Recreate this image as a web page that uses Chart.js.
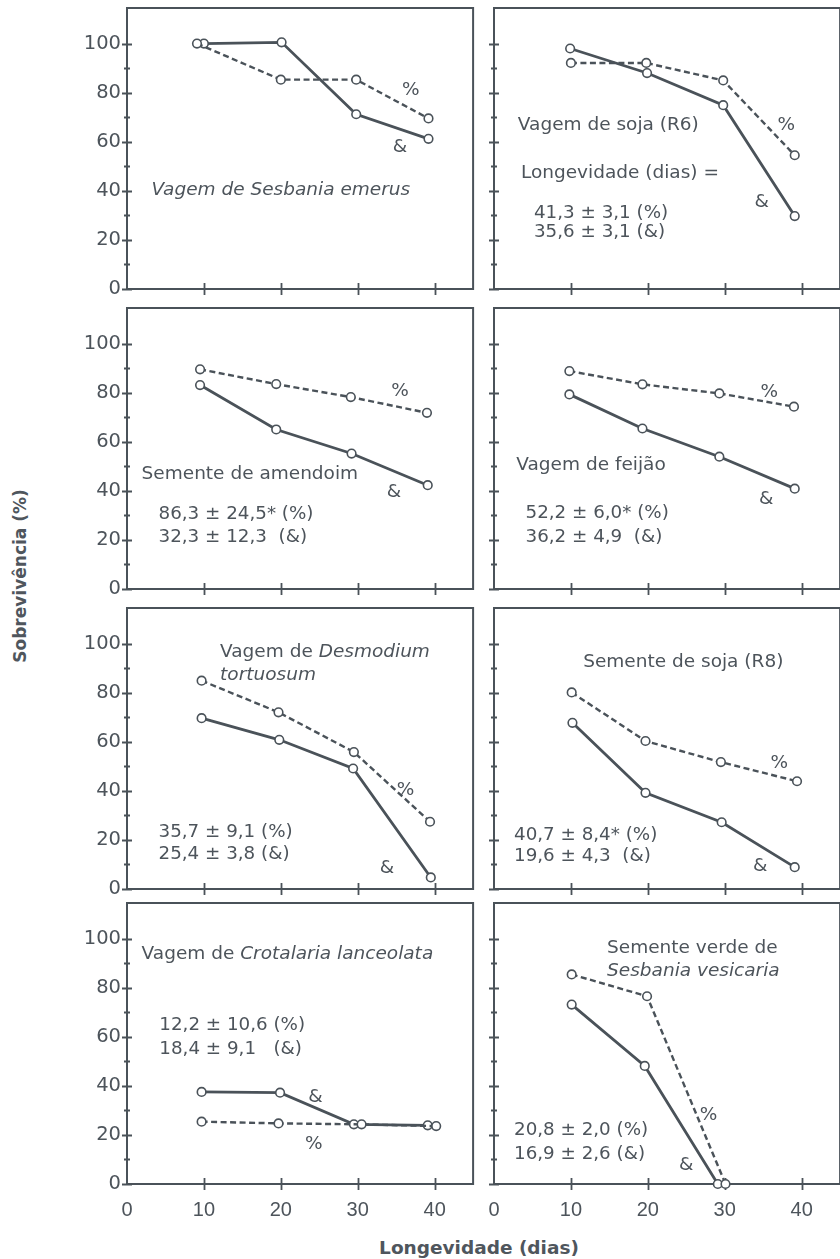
<!DOCTYPE html>
<html>
<head>
<meta charset="utf-8">
<title>Sobrevivência</title>
<script src="https://cdn.jsdelivr.net/npm/chart.js@4.4.1/dist/chart.umd.min.js"></script>
<style>
  html, body { margin: 0; padding: 0; background: #fff; overflow: hidden; }
  body { width: 840px; height: 1259px; position: relative; }
  canvas { position: absolute; }
  .title { position: absolute; font-family: 'DejaVu Sans', sans-serif; font-weight: bold; color: #4f565d; white-space: nowrap; }
  #ytitle { left: 20px; top: 576px; font-size: 17px; transform: translate(-50%, -50%) rotate(-90deg); }
  #xtitle { left: 479px; top: 1247px; font-size: 18.5px; transform: translate(-50%, -50%); }
</style>
</head>
<body>
<div class="title" id="ytitle">Sobrevivência (%)</div>
<div class="title" id="xtitle">Longevidade (dias)</div>
<script>
// painéis na ordem de leitura (esq->dir, cima->baixo)
const panelNames = ['Sesbania emerus', 'soja R6', 'amendoim', 'feijão', 'Desmodium', 'soja R8', 'Crotalaria', 'Sesbania vesicaria'];

// série & (linha contínua): dias e sobrevivência (%)
const solidDays = [
  [10, 20.1, 29.8, 39.2],
  [9.9, 19.9, 29.8, 39.1],
  [9.5, 19.4, 29.2, 39.1],
  [9.8, 19.3, 29.3, 39.1],
  [9.7, 19.8, 29.4, 39.5],
  [10.2, 19.7, 29.6, 39.1],
  [9.7, 19.9, 29.5, 39.1],
  [10.1, 19.6, 29.1]
];
const solidSurv = [
  [100, 100.5, 71.2, 61.2],
  [98, 88, 74.9, 29.7],
  [83.1, 65, 55.2, 42.3],
  [79.3, 65.4, 53.9, 40.9],
  [69.6, 60.8, 49.1, 4.7],
  [67.7, 39.2, 27.2, 8.9],
  [37.5, 37.2, 24.3, 23.9],
  [73.1, 48.1, 0]
];

// série % (tracejada)
const dashDays = [
  [9.1, 20, 29.8, 39.2],
  [10, 19.8, 29.8, 39.1],
  [9.5, 19.4, 29.1, 39],
  [9.8, 19.3, 29.3, 39],
  [9.7, 19.7, 29.5, 39.4],
  [10.1, 19.7, 29.5, 39.4],
  [9.7, 19.7, 30.5, 40.2],
  [10.1, 19.9, 30.1]
];
const dashSurv = [
  [100, 85.3, 85.3, 69.5],
  [92.1, 92.1, 85, 54.5],
  [89.5, 83.5, 78.2, 71.8],
  [88.8, 83.4, 79.7, 74.3],
  [84.9, 72, 55.8, 27.4],
  [80.1, 60.3, 51.7, 43.9],
  [25.4, 24.7, 24.3, 23.6],
  [85.4, 76.5, 0]
];

const yTickValues = [0, 10, 20, 30, 40, 50, 60, 70, 80, 90, 100];
const yLabelValues = [0, 20, 40, 60, 80, 100];
const xTickValues = [0, 10, 20, 30, 40];

// longevidade média ± dp
const longevity = [
  null,
  ['41,3 ± 3,1 (%)', '35,6 ± 3,1 (&)'],
  ['86,3 ± 24,5* (%)', '32,3 ± 12,3  (&)'],
  ['52,2 ± 6,0* (%)', '36,2 ± 4,9  (&)'],
  ['35,7 ± 9,1 (%)', '25,4 ± 3,8 (&)'],
  ['40,7 ± 8,4* (%)', '19,6 ± 4,3  (&)'],
  ['12,2 ± 10,6 (%)', '18,4 ± 9,1   (&)'],
  ['20,8 ± 2,0 (%)', '16,9 ± 2,6 (&)']
];

const ink = '#4a5259';
const textInk = '#4d545b';
const FONT = "'DejaVu Sans', sans-serif";

// textos de cada painel, posicionados em unidades dos eixos
// t: lista de [texto, itálico]
const notes = [
  { titles: [{ x: 3.2, y: 40.3, t: [['Vagem de Sesbania emerus', true]] }],
    stats: null, pct: [36.9, 81], amp: [35.5, 57.9] },
  { titles: [{ x: 3.1, y: 66.7, t: [['Vagem de soja (R6)', false]] },
             { x: 3.5, y: 47, t: [['Longevidade (dias) =', false]] }],
    stats: [5.2, 30.8, 23], pct: [38, 66.7], amp: [34.8, 35.5] },
  { titles: [{ x: 1.9, y: 46.7, t: [['Semente de amendoim', false]] }],
    stats: [4.1, 30.3, 21.2], pct: [35.5, 80.7], amp: [34.7, 39.4] },
  { titles: [{ x: 2.9, y: 50.4, t: [['Vagem de feijão', false]] }],
    stats: [4.1, 31, 21.2], pct: [35.8, 80], amp: [35.4, 36.4] },
  { titles: [{ x: 12.1, y: 96.4, t: [['Vagem de ', false], ['Desmodium', true]] },
             { x: 12.1, y: 87.3, t: [['tortuosum', true]] }],
    stats: [4.1, 23.1, 14.3], pct: [36.2, 40.3], amp: [33.8, 8.5] },
  { titles: [{ x: 11.6, y: 92.3, t: [['Semente de soja (R8)', false]] }],
    stats: [2.6, 22, 13.5], pct: [37.1, 51.1], amp: [34.6, 9.2] },
  { titles: [{ x: 1.9, y: 93.5, t: [['Vagem de ', false], ['Crotalaria lanceolata', true]] }],
    stats: [4.2, 64.8, 55], pct: [24.3, 16.1], amp: [24.5, 35.2] },
  { titles: [{ x: 14.7, y: 96.2, t: [['Semente verde de', false]] },
             { x: 14.7, y: 86.6, t: [['Sesbania vesicaria', true]] }],
    stats: [2.6, 21.9, 12], pct: [27.9, 28], amp: [25, 7.5] }
];

const frame = {
  id: 'frame',
  beforeDatasetsDraw(chart, args, opts) {
    const { ctx, chartArea: a, scales: { x, y } } = chart;
    ctx.save();
    ctx.strokeStyle = ink;
    ctx.lineWidth = 2;
    ctx.strokeRect(a.left, a.top, a.right - a.left, a.bottom - a.top);
    ctx.lineWidth = 1.8;
    ctx.beginPath();
    y.ticks.forEach(t => {
      const py = Math.round(y.getPixelForValue(t.value)) + 0.5;
      const h = t.value % 20 === 0 ? 5 : 3;
      ctx.moveTo(a.left - h, py);
      ctx.lineTo(a.left + h, py);
    });
    x.ticks.forEach(t => {
      if (t.value === 0) return;
      const px = Math.round(x.getPixelForValue(t.value)) + 0.5;
      ctx.moveTo(px, a.bottom - 6);
      ctx.lineTo(px, a.bottom + 6);
    });
    ctx.stroke();

    // rótulos dos eixos
    ctx.fillStyle = textInk;
    ctx.textBaseline = 'middle';
    if (opts.yLabels) {
      ctx.font = '19.5px ' + FONT;
      ctx.textAlign = 'right';
      y.ticks.forEach(t => {
        if (yLabelValues.includes(t.value)) ctx.fillText(String(t.value), a.left - 6, y.getPixelForValue(t.value));
      });
    }
    if (opts.xLabels) {
      ctx.font = "20px 'Liberation Sans', sans-serif";
      ctx.textAlign = 'center';
      x.ticks.forEach(t => ctx.fillText(String(t.value), x.getPixelForValue(t.value), a.bottom + 26));
    }
    ctx.restore();
  },
  afterDatasetsDraw(chart, args, opts) {
    const n = opts.note;
    if (!n) return;
    const { ctx, scales: { x, y } } = chart;
    ctx.save();
    ctx.fillStyle = textInk;
    ctx.textBaseline = 'middle';
    ctx.textAlign = 'left';
    n.titles.forEach(line => {
      let px = x.getPixelForValue(line.x);
      const py = y.getPixelForValue(line.y);
      line.t.forEach(([s, it]) => {
        ctx.font = (it ? 'italic ' : '') + '18.5px ' + FONT;
        ctx.fillText(s, px, py);
        px += ctx.measureText(s).width;
      });
    });
    if (n.stats) {
      ctx.font = '18.3px ' + FONT;
      const lines = longevity[opts.idx];
      ctx.fillText(lines[0], x.getPixelForValue(n.stats[0]), y.getPixelForValue(n.stats[1]));
      ctx.fillText(lines[1], x.getPixelForValue(n.stats[0]), y.getPixelForValue(n.stats[2]));
    }
    ctx.font = '18.5px ' + FONT;
    ctx.textAlign = 'center';
    ctx.fillText('%', x.getPixelForValue(n.pct[0]), y.getPixelForValue(n.pct[1]));
    ctx.fillText('&', x.getPixelForValue(n.amp[0]), y.getPixelForValue(n.amp[1]));
    ctx.restore();
  }
};

const colLeft = [127, 494];
const rowTop = [8, 308, 608, 903];
const areaW = 348, areaH = 281, padTop = 8, padRight = 4;

panelNames.forEach((name, i) => {
  const col = i % 2, row = Math.floor(i / 2);
  const leftCol = col === 0, bottomRow = row === 3;
  const yw = leftCol ? 60 : 12;
  const xh = bottomRow ? 40 : 10;
  const cv = document.createElement('canvas');
  cv.width = yw + areaW + padRight;
  cv.height = padTop + areaH + xh;
  cv.style.left = (colLeft[col] - yw) + 'px';
  cv.style.top = (rowTop[row] - padTop) + 'px';
  document.body.appendChild(cv);

  const pointStyle = {
    borderColor: ink, pointRadius: 4.3, pointHoverRadius: 4.3,
    pointBackgroundColor: '#fff', pointBorderColor: ink, pointBorderWidth: 1.6,
    clip: false, tension: 0, fill: false
  };

  new Chart(cv, {
    type: 'line',
    data: {
      datasets: [
        Object.assign({
          label: '%',
          data: dashDays[i].map((d, k) => ({ x: d, y: dashSurv[i][k] })),
          borderWidth: 2.4, borderDash: [6, 3.5]
        }, pointStyle),
        Object.assign({
          label: '&',
          data: solidDays[i].map((d, k) => ({ x: d, y: solidSurv[i][k] })),
          borderWidth: 2.8
        }, pointStyle)
      ]
    },
    options: {
      responsive: false,
      animation: false,
      layout: { padding: { top: padTop, right: padRight, left: 0, bottom: 0 } },
      plugins: {
        legend: { display: false },
        tooltip: { enabled: false },
        frame: { note: notes[i], idx: i, yLabels: leftCol, xLabels: bottomRow }
      },
      scales: {
        x: {
          type: 'linear', min: 0, max: 45,
          grid: { display: false }, border: { display: false },
          afterBuildTicks: s => { s.ticks = xTickValues.map(v => ({ value: v })); },
          afterFit: s => { s.height = xh; },
          ticks: { display: false }
        },
        y: {
          type: 'linear', min: 0, max: 114.5,
          grid: { display: false }, border: { display: false },
          afterBuildTicks: s => { s.ticks = yTickValues.map(v => ({ value: v })); },
          afterFit: s => { s.width = yw; },
          ticks: { display: false }
        }
      }
    },
    plugins: [frame]
  });
});
</script>
</body>
</html>
